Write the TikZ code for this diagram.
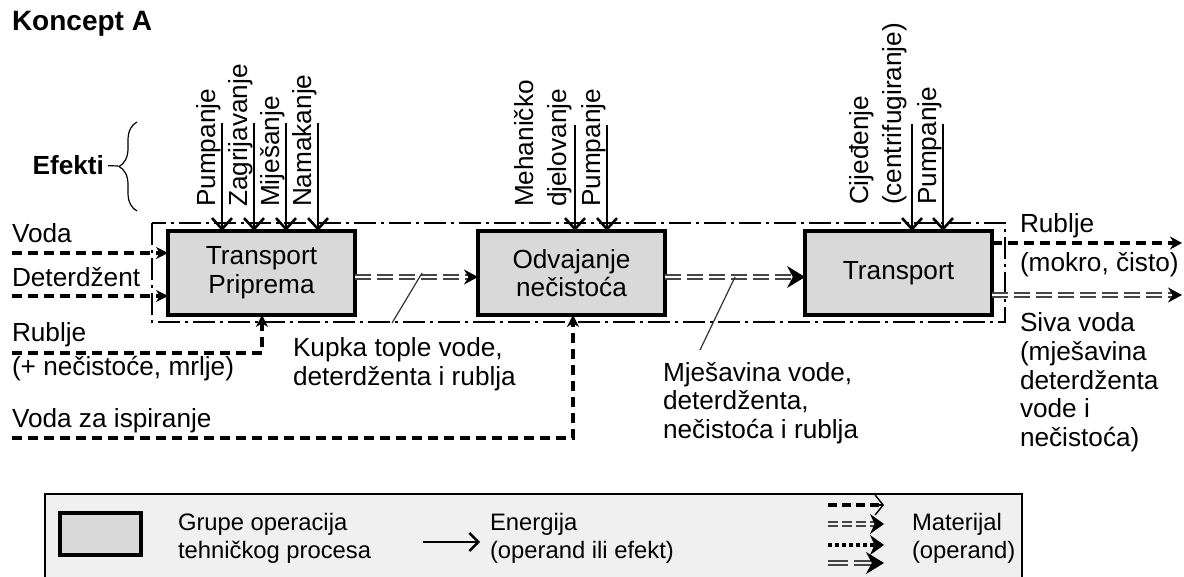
\documentclass[tikz,border=0pt]{standalone}
\usepackage{fontspec}
\setmainfont{Liberation Sans}
\usetikzlibrary{arrows.meta,decorations.pathreplacing}
\definecolor{boxgray}{HTML}{D9D9D9}
\definecolor{leggray}{HTML}{F0F0F0}
\definecolor{dblgray}{HTML}{454545}
\begin{document}
\begin{tikzpicture}[x=0.5pt,y=-0.5pt,
  font=\fontsize{13.1}{14.3}\selectfont,
  every node/.style={inner sep=0pt, outer sep=0pt},
  proc/.style={draw=black, line width=1.7pt, fill=boxgray, minimum width=93.5pt, minimum height=42pt, align=center},
  eff/.style={line width=1.3pt, -{Straight Barb[length=5.5pt,width=10pt,line width=1.3pt]}},
  efflbl/.style={rotate=90, anchor=base west},
  matin/.style={line width=1.75pt, dash pattern=on 5pt off 3pt, -{Stealth[length=6pt,width=6pt]}},
  dbl/.style={draw=dblgray, line width=0.9pt, double=white, double distance=1.3pt, dash pattern=on 8pt off 3pt},
  tipS/.style={-{Stealth[length=7pt,width=7.5pt]}, line width=0.5pt},
  tipL/.style={-{Stealth[length=9pt,width=11pt]}, line width=0.5pt},
  tipM/.style={-{Stealth[length=7pt,width=10pt]}, line width=0.5pt},
  boundary/.style={line width=1pt, dash pattern=on 11pt off 2.5pt on 1.5pt off 2.5pt},
  leader/.style={line width=0.6pt, draw=black!80},
  lbl/.style={anchor=base west},
  blk/.style={anchor=north west, align=left},
  legfont/.style={font=\fontsize{11.9}{14.2}\selectfont}
]
\useasboundingbox (0,0) rectangle (1184,577);
\clip (0,0) rectangle (1184,577);

% title
\node[lbl, font=\fontsize{14}{16}\selectfont\bfseries] (title) at (12,31) {Koncept A};

% Efekti with brace
\node[anchor=base east, font=\fontsize{13.1}{14.3}\selectfont\bfseries] (ef) at (104,175) {Efekti};
\coordinate (brtip) at (118,166);
\draw[line width=0.6pt] ([xshift=2pt]ef.east) -- (brtip);
\coordinate (brbot) at (137,211);
\coordinate (brtop) at (137,122);
\draw[line width=0.6pt, decorate, decoration={brace, amplitude=9pt}] (brbot) -- (brtop);

% system boundary
\draw[boundary] (152,223) rectangle (1005,322);

% process boxes
\node[proc] (b1) at (261.5,273) {Transport\\Priprema};
\node[proc] (b2) at (571.5,273) {Odvajanje\\nečistoća};
\node[proc] (b3) at (898.5,273) {Transport};

% effects box 1
\foreach \x/\t [count=\i] in {222/Pumpanje,254/Zagrijavanje,286/Miješanje,318/Namakanje} {
  \coordinate (ea\i) at (\x,123);
  \draw[eff] (ea\i) -- (ea\i |- b1.north);
  \node[efflbl] (la\i) at (\x-7,207) {\t};
}
% effects box 2
\coordinate (eb1) at (575,125);
\coordinate (eb2) at (607,125);
\draw[eff] (eb1) -- (eb1 |- b2.north);
\draw[eff] (eb2) -- (eb2 |- b2.north);
\node[efflbl] (lb1) at (533,207) {Mehaničko};
\node[efflbl] (lb2) at (566,207) {djelovanje};
\node[efflbl] (lb3) at (600,207) {Pumpanje};
% effects box 3
\coordinate (ec1) at (912,124);
\coordinate (ec2) at (943,124);
\draw[eff] (ec1) -- (ec1 |- b3.north);
\draw[eff] (ec2) -- (ec2 |- b3.north);
\node[efflbl] (lc1) at (868,205) {Cijeđenje};
\node[efflbl] (lc2) at (901,205) {(centrifugiranje)};
\node[efflbl] (lc3) at (936,205) {Pumpanje};

% inputs
\node[lbl] (tvoda) at (12,243) {Voda};
\coordinate (iv) at (12,253);
\draw[matin] (iv) -- (iv -| b1.west);
\node[lbl] (tdet) at (12,287) {Deterdžent};
\coordinate (id) at (12,296);
\draw[matin] (id) -- (id -| b1.west);
\node[lbl] (trub) at (12,342) {Rublje};
\node[lbl] (trub2) at (12,376) {(+ nečistoće, mrlje)};
\coordinate (ir) at (12,353);
\coordinate (irc) at (262,353);
\draw[matin] (ir) -- (irc) -- (irc |- b1.south);
\node[lbl] (tisp) at (12,428) {Voda za ispiranje};
\coordinate (ii) at (12,438);
\coordinate (iic) at (573,438);
\draw[matin] (ii) -- (iic) -- (iic |- b2.south);

% connectors between boxes
\path (b1.east) ++(0,4) coordinate (c1s);
\path (b2.west) ++(0,4) coordinate (c1e);
\draw[dbl] (c1s) -- ([xshift=-5pt]c1e);
\draw[tipS] ([xshift=-2pt]c1e) -- (c1e);
\path (b2.east) ++(0,4) coordinate (c2s);
\path (b3.west) ++(0,4) coordinate (c2e);
\draw[dbl, line width=1pt] (c2s) -- ([xshift=-6pt]c2e);
\draw[tipL] ([xshift=-2pt]c2e) -- (c2e);

% leaders and labels
\coordinate (k1) at (422,273);
\coordinate (k2) at (392,323);
\draw[leader] (k1) -- (k2);
\node[blk] (tkup) at (293,338) {Kupka tople vode,\\deterdženta i rublja};
\coordinate (m1) at (735,277);
\coordinate (m2) at (700,350);
\draw[leader] (m1) -- (m2);
\node[blk] (tmje) at (663,362) {Mješavina vode,\\deterdženta,\\nečistoća i rublja};

% outputs
\coordinate (o1) at (1182,243);
\draw[line width=1.75pt, dash pattern=on 5pt off 3pt, -{Stealth[length=6pt,width=6.5pt]}] (b3.east |- o1) -- (o1);
\coordinate (o2) at (1182,295);
\draw[dbl] (b3.east |- o2) -- ([xshift=-4pt]o2);
\draw[tipS] ([xshift=-2pt]o2) -- (o2);
\node[lbl] (trubo) at (1020,233) {Rublje};
\node[lbl] (tmok) at (1020,272) {(mokro, čisto)};
\node[blk] (tsiva) at (1020,313) {Siva voda\\(mješavina\\deterdženta\\vode i\\nečistoća)};

% legend
\draw[line width=1.3pt, fill=leggray] (45,494) rectangle (1022,600);
\node[draw=black, line width=1.7pt, fill=boxgray, minimum width=40.5pt, minimum height=21pt] (lgbox) at (100.5,534) {};
\node[blk, legfont] (lgt1) at (178,513) {Grupe operacija\\tehničkog procesa};
\coordinate (le1) at (423,542);
\coordinate (le2) at (480,542);
\draw[line width=1.2pt, -{Straight Barb[length=4.5pt,width=9pt,line width=1.2pt]}] (le1) -- (le2);
\node[blk, legfont] (lgt2) at (490,513) {Energija\\(operand ili efekt)};
\coordinate (lm1) at (828,505);
\coordinate (lm2) at (828,524);
\coordinate (lm3) at (828,545);
\coordinate (lm4) at (828,563);
\draw[line width=1.75pt, dash pattern=on 4.5pt off 2.5pt] (lm1) -- ++(52,0);
\draw[line width=0.7pt, -{Straight Barb[length=4pt,width=10pt,line width=0.7pt]}] ([xshift=24pt]lm1) -- ++(8,0);
\draw[dbl, double=leggray, line width=0.8pt, double distance=1.1pt, dash pattern=on 5pt off 2pt] (lm2) -- ++(52,0);
\draw[tipM] ([xshift=24pt]lm2) -- ++(8,0);
\draw[line width=1.75pt, dash pattern=on 2pt off 1.5pt] (lm3) -- ++(52,0);
\draw[tipM] ([xshift=24pt]lm3) -- ++(8,0);
\draw[dbl, double=leggray, line width=0.8pt, double distance=1.1pt, dash pattern=on 10pt off 3pt] (lm4) -- ++(50,0);
\draw[tipL] ([xshift=24pt]lm4) -- ++(8,0);
\node[blk, legfont] (lgt3) at (912,513) {Materijal\\(operand)};
\end{tikzpicture}
\end{document}
